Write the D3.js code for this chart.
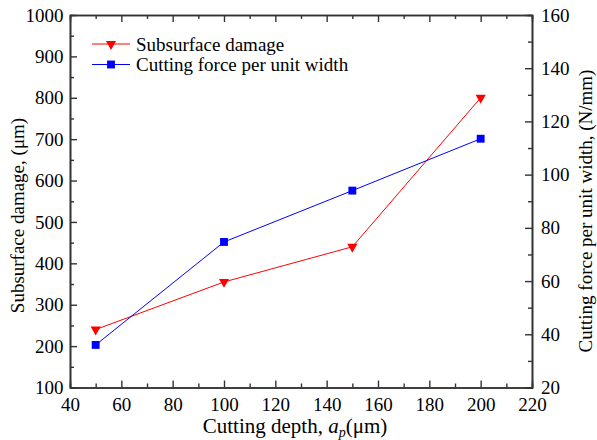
<!DOCTYPE html>
<html><head><meta charset="utf-8">
<script src="https://cdn.jsdelivr.net/npm/d3@7"></script>
<style>
html,body{margin:0;padding:0;background:#fff;}
svg{display:block;}
svg text{font-family:"Liberation Serif","Times New Roman",serif !important;}
</style></head>
<body>
<svg id="c" width="597" height="440"></svg>
<script>
const depth = [50, 100, 150, 200];
const damage = [240, 355, 440, 800];
const force = [36, 74.7, 94, 113.5];
const xTicks = [40, 60, 80, 100, 120, 140, 160, 180, 200, 220];
const yLeftTicks = [100, 200, 300, 400, 500, 600, 700, 800, 900, 1000];
const yRightTicks = [20, 40, 60, 80, 100, 120, 140, 160];
const seriesNames = ["Subsurface damage", "Cutting force per unit width"];
const colors = ["#ff0000", "#0000ff"];

const FONT = '"Liberation Serif", "Times New Roman", serif';
const svg = d3.select("#c");
const L = 70, R = 532, T = 15, B = 387.5;
const x = d3.scaleLinear().domain([40, 220]).range([L, R]);
const yL = d3.scaleLinear().domain([100, 1000]).range([B, T]);
const yR = d3.scaleLinear().domain([20, 160]).range([B, T]);
const axisColor = "#333";
const fs = 19;

function styleAxis(g){
  g.attr("font-family", FONT).attr("font-size", fs);
  g.select(".domain").attr("stroke", axisColor).attr("stroke-width", 1.6);
  g.selectAll(".tick line").attr("stroke", axisColor).attr("stroke-width", 1.4);
  g.selectAll(".tick text").attr("fill", "#000").attr("font-family", FONT)
    .style("font-size", fs + "px").style("font-family", FONT);
}
const minor = (a, b, step) => d3.range(a, b + 0.001, step);
const mx = minor(50, 210, 20);
const myL = minor(150, 950, 100);
const myR = minor(30, 150, 20);

// bottom
svg.append("g").attr("transform", `translate(0,${B})`)
  .call(d3.axisBottom(x).tickValues(mx).tickSize(-4).tickFormat("")).call(styleAxis);
svg.append("g").attr("transform", `translate(0,${B})`)
  .call(d3.axisBottom(x).tickValues(xTicks).tickSizeInner(-7).tickSizeOuter(0).tickPadding(10).tickFormat(d3.format("d"))).call(styleAxis);
// top
svg.append("g").attr("transform", `translate(0,${T})`)
  .call(d3.axisTop(x).tickValues(mx).tickSize(-4).tickFormat("")).call(styleAxis);
svg.append("g").attr("transform", `translate(0,${T})`)
  .call(d3.axisTop(x).tickValues(xTicks).tickSizeInner(-7).tickSizeOuter(0).tickFormat("")).call(styleAxis);
// left
svg.append("g").attr("transform", `translate(${L},0)`)
  .call(d3.axisLeft(yL).tickValues(myL).tickSize(-4).tickFormat("")).call(styleAxis);
svg.append("g").attr("transform", `translate(${L},0)`)
  .call(d3.axisLeft(yL).tickValues(yLeftTicks).tickSizeInner(-7).tickSizeOuter(0).tickPadding(6.5).tickFormat(d3.format("d"))).call(styleAxis);
// right
svg.append("g").attr("transform", `translate(${R},0)`)
  .call(d3.axisRight(yR).tickValues(myR).tickSize(-4).tickFormat("")).call(styleAxis);
svg.append("g").attr("transform", `translate(${R},0)`)
  .call(d3.axisRight(yR).tickValues(yRightTicks).tickSizeInner(-7).tickSizeOuter(0).tickPadding(9).tickFormat(d3.format("d"))).call(styleAxis);

// lines & markers
const data1 = depth.map((d, i) => [d, damage[i]]);
const data2 = depth.map((d, i) => [d, force[i]]);
svg.append("path").datum(data1).attr("fill", "none").attr("stroke", colors[0]).attr("stroke-width", 1)
  .attr("d", d3.line().x(d => x(d[0])).y(d => yL(d[1])));
svg.append("path").datum(data2).attr("fill", "none").attr("stroke", colors[1]).attr("stroke-width", 1)
  .attr("d", d3.line().x(d => x(d[0])).y(d => yR(d[1])));

const tri = d3.symbol().type(d3.symbolTriangle).size(45);
const sq = d3.symbol().type(d3.symbolSquare).size(62);
svg.selectAll(".m1").data(data1).enter().append("path")
  .attr("d", tri).attr("fill", colors[0])
  .attr("transform", d => `translate(${x(d[0])},${yL(d[1])}) rotate(180)`);
svg.selectAll(".m2").data(data2).enter().append("path")
  .attr("d", sq).attr("fill", colors[1])
  .attr("transform", d => `translate(${x(d[0])},${yR(d[1])})`);

// legend
const legY = [44, 64.5];
const legTextY = [50.5, 71];
[0, 1].forEach(i => {
  const g = svg.append("g");
  g.append("line").attr("x1", 92).attr("x2", 130).attr("y1", legY[i]).attr("y2", legY[i])
    .attr("stroke", colors[i]).attr("stroke-width", 1);
  g.append("path").attr("d", i === 0 ? tri : sq).attr("fill", colors[i])
    .attr("transform", i === 0 ? `translate(111,${legY[i]}) rotate(180)` : `translate(111,${legY[i]})`);
  g.append("text").attr("x", 136).attr("y", legTextY[i])
    .style("font-family", FONT).style("font-size", "19px").text(seriesNames[i]);
});

// axis titles
svg.append("text").attr("transform", `translate(24,215.5) rotate(-90)`)
  .attr("text-anchor", "middle").style("font-family", FONT).style("font-size", "19px")
  .text("Subsurface damage, (μm)");
svg.append("text").attr("transform", `translate(592,211) rotate(-90)`)
  .attr("text-anchor", "middle").style("font-family", FONT).style("font-size", "19px")
  .text("Cutting force per unit width, (N/mm)");
const xt = svg.append("text").attr("x", 295).attr("y", 433).attr("text-anchor", "middle")
  .style("font-family", FONT).style("font-size", "21px");
xt.append("tspan").text("Cutting depth, ");
xt.append("tspan").attr("font-style", "italic").text("a");
xt.append("tspan").attr("font-style", "italic").style("font-size", "14px").attr("dy", 4).text("p");
xt.append("tspan").attr("dy", -4).text("(μm)");
</script>
</body></html>
